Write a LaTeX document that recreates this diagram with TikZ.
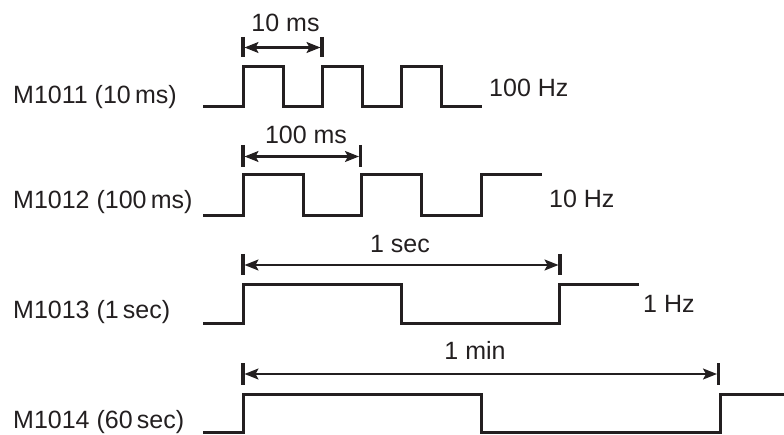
\documentclass[tikz,border=0pt]{standalone}
\usepackage{fontspec}
\setmainfont{Liberation Sans}
\usetikzlibrary{arrows.meta}
\definecolor{ink}{HTML}{231F20}
\begin{document}
\begin{tikzpicture}[x=1pt,y=-1pt,
  wave/.style={line width=3pt, line join=miter, draw=ink},
  dimline/.style={line width=2.2pt, draw=ink,
    {Stealth[length=14pt,width=11pt,inset=3pt]}-{Stealth[length=14pt,width=11pt,inset=3pt]},
    shorten <=1.5pt, shorten >=1.5pt},
  tickbar/.style={line width=3.5pt, draw=ink},
  lbl/.style={font=\fontsize{25}{28}\selectfont, text=ink, inner sep=0pt}]
\useasboundingbox (0,0) rectangle (784,435);

% ---- M1011: 10 ms clock ----
\node[lbl, anchor=base west] (n1) at (13,104) {M1011 (10\,ms)};
\draw[wave] (203,106.5) -- (243,106.5) -- (243,67) -- (283,67) -- (283,106.5)
  -- (322,106.5) -- (322,67) -- (362,67) -- (362,106.5) -- (401,106.5)
  -- (401,67) -- (441,67) -- (441,106.5) -- (482,106.5);
\node[lbl, anchor=base west] (f1) at (489,97) {100 Hz};
\coordinate (a1) at (243,47.5);
\coordinate (b1) at (322,47.5);
\draw[tickbar] (243,37) -- (243,57);
\draw[tickbar] (322,37) -- (322,57);
\draw[dimline] (a1) -- (b1);
\node[lbl, anchor=base] (d1) at (285.5,32) {10 ms};

% ---- M1012: 100 ms clock ----
\node[lbl, anchor=base west] (n2) at (13,208.5) {M1012 (100\,ms)};
\draw[wave] (203,215.5) -- (243,215.5) -- (243,174.5) -- (303,174.5) -- (303,215.5)
  -- (361,215.5) -- (361,174.5) -- (421.5,174.5) -- (421.5,215.5) -- (481,215.5)
  -- (481,174.5) -- (542,174.5);
\node[lbl, anchor=base west] (f2) at (549,207.5) {10 Hz};
\coordinate (a2) at (243,156.5);
\coordinate (b2) at (360.5,156.5);
\draw[tickbar] (243,145) -- (243,167);
\draw[tickbar] (360.5,145) -- (360.5,167);
\draw[dimline] (a2) -- (b2);
\node[lbl, anchor=base] (d2) at (306,144) {100 ms};

% ---- M1013: 1 sec clock ----
\node[lbl, anchor=base west] (n3) at (13,318.5) {M1013 (1\,sec)};
\draw[wave] (203,324) -- (243,324) -- (243,284.5) -- (401.5,284.5) -- (401.5,324)
  -- (559.5,324) -- (559.5,284.5) -- (639,284.5);
\node[lbl, anchor=base west] (f3) at (643,313) {1 Hz};
\coordinate (a3) at (243,265);
\coordinate (b3) at (560,265);
\draw[tickbar] (243,254) -- (243,275);
\draw[tickbar] (560,254) -- (560,275);
\draw[dimline] (a3) -- (b3);
\node[lbl, anchor=base] (d3) at (400,252.5) {1 sec};

% ---- M1014: 60 sec clock ----
\node[lbl, anchor=base west] (n4) at (13,428.5) {M1014 (60\,sec)};
\draw[wave] (203,432.5) -- (243,432.5) -- (243,394) -- (481,394) -- (481,432.5)
  -- (720,432.5) -- (720,394) -- (784,394);
\coordinate (a4) at (243,374);
\coordinate (b4) at (718.5,374);
\draw[tickbar] (243,363) -- (243,385);
\draw[tickbar] (718.5,363) -- (718.5,385);
\draw[dimline] (a4) -- (b4);
\node[lbl, anchor=base] (d4) at (475,359.5) {1 min};
\end{tikzpicture}
\end{document}
